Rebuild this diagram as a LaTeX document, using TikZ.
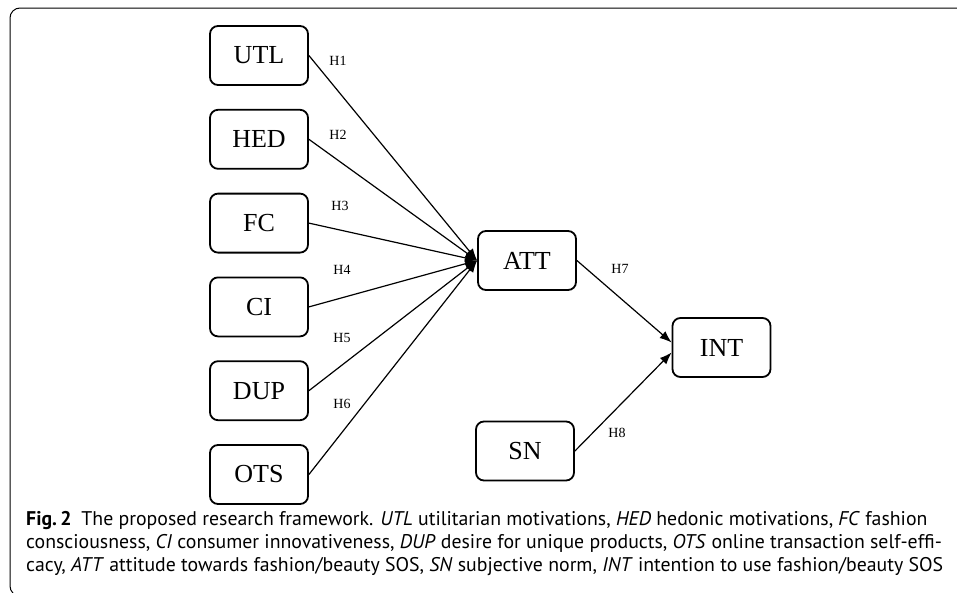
\documentclass[tikz,border=0pt]{standalone}
\usepackage{fontspec}
\setmainfont{Liberation Serif}
\newfontfamily\capfont{PT Sans}
\usetikzlibrary{arrows.meta,positioning}

\begin{document}
\begin{tikzpicture}[
  % --- global style ---
  x=1pt, y=-1pt,
  >=Latex,
  node distance=23pt and 0pt,
  every node/.style={font=\fontsize{26}{28}\selectfont},
  box/.style={
    draw, line width=1.8pt, rounded corners=8pt,
    minimum width=98pt, minimum height=59pt,
    inner sep=0pt, text centered
  },
  hyp/.style={font=\fontsize{14}{15}\selectfont, inner sep=0pt},
  capline/.style={anchor=base west, inner sep=0pt,
    font=\capfont\fontsize{19.8}{24}\selectfont},
  arr/.style={-{Latex[length=12pt,width=9pt]}, line width=1.2pt},
]
\useasboundingbox (0,0) rectangle (957,592);

% ====== Frame ======
\draw[line width=1pt, rounded corners=10pt] (10,8) rectangle (1000,596);

% ====== Left column: antecedents ======
\node[box] (utl) at (259,55.5) {UTL};
\node[box, below=of utl] (hed) {HED};
\node[box, below=of hed] (fc)  {FC};
\node[box, below=of fc]  (ci)  {CI};
\node[box, below=of ci]  (dup) {DUP};
\node[box, below=of dup] (ots) {OTS};

% ====== Middle and right ======
\node[box] (att) at (527,260.5) {ATT};
\node[box] (int) at (721.5,347.5) {INT};
\node[box] (sn)  at (525,451) {SN};

% ====== Arrows ======
\draw[arr] (utl.east) -- (att.west);
\draw[arr] (hed.east) -- (att.west);
\draw[arr] (fc.east)  -- (att.west);
\draw[arr] (ci.east)  -- (att.west);
\draw[arr] (dup.east) -- (att.west);
\draw[arr] (ots.east) -- (att.west);

\draw[arr] (att.east) -- ([yshift=5pt]int.west);
\draw[arr] (sn.east)  -- ([yshift=-5pt]int.west);

% ====== Hypothesis labels ======
\node[hyp] (h1) at (338,61)  {H1};
\node[hyp] (h2) at (338,135) {H2};
\node[hyp] (h3) at (340,206) {H3};
\node[hyp] (h4) at (342,270) {H4};
\node[hyp] (h5) at (342,338) {H5};
\node[hyp] (h6) at (342,404) {H6};
\node[hyp] (h7) at (620,269) {H7};
\node[hyp] (h8) at (617,433) {H8};

% ====== Caption ======
\node[capline] (cap1) at (26,525)
  {\textbf{Fig.\,2}\enspace The proposed research framework. \textit{UTL} utilitarian motivations, \textit{HED} hedonic motivations, \textit{FC} fashion};
\node[capline] (cap2) at (26,548)
  {consciousness, \textit{CI} consumer innovativeness, \textit{DUP} desire for unique products, \textit{OTS} online transaction self-effi-};
\node[capline] (cap3) at (26,571)
  {cacy, \textit{ATT} attitude towards fashion/beauty SOS, \textit{SN} subjective norm, \textit{INT} intention to use fashion/beauty SOS};

\end{tikzpicture}
\end{document}
